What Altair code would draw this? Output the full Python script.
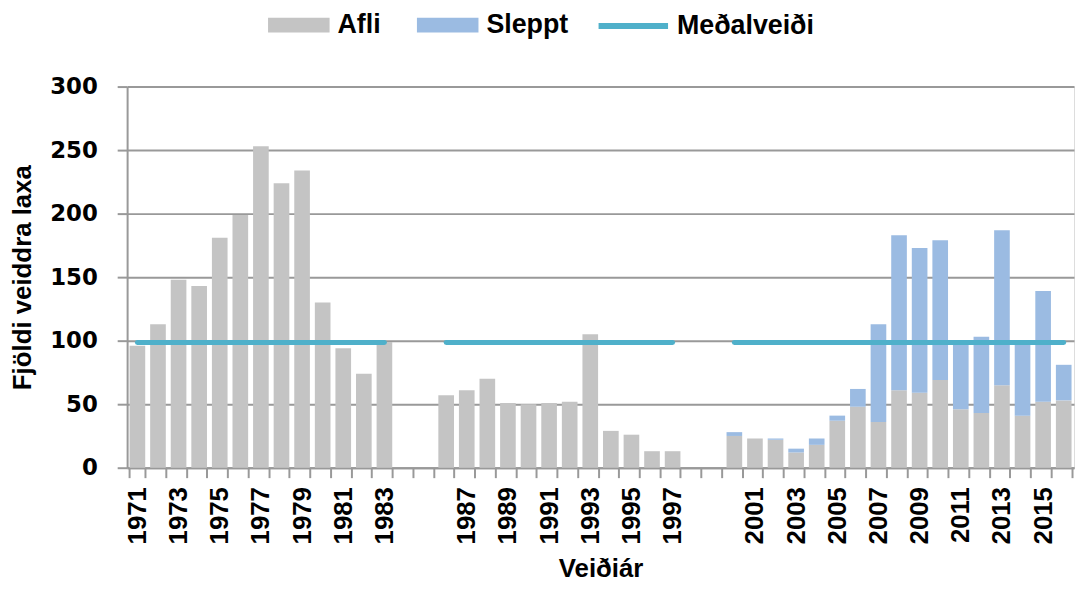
import altair as alt
import pandas as pd

# ---- data ----
all_years = [str(y) for y in range(1971, 2017)]

afli_years = list(range(1971, 1984)) + list(range(1986, 1998)) + list(range(2000, 2017))
afli = [96, 113, 148, 143, 181, 199, 253, 224, 234, 130, 94, 74, 99,
        57, 61, 70, 51, 50, 51, 52, 105, 29, 26, 13, 13,
        25, 23, 22, 12, 18, 37, 48, 36, 61, 59, 69, 46, 43, 65, 41, 52, 53]

sleppt_years = list(range(2000, 2017))
sleppt = [3, 0, 1, 3, 5, 4, 14, 77, 122, 114, 110, 53, 60, 122, 58, 87, 28]

mean_value = 98.5
mean_segments = [(1971, 1983), (1986, 1997), (2000, 2016)]

label_years = [1971, 1973, 1975, 1977, 1979, 1981, 1983,
               1987, 1989, 1991, 1993, 1995, 1997,
               2001, 2003, 2005, 2007, 2009, 2011, 2013, 2015]

series_names = ["Afli", "Sleppt"]
series_colors = ["#C4C4C4", "#9BBBE2"]
mean_name = "Meðalveiði"
mean_color = "#4FB0CA"

# ---- tables ----
rows = []
for y, v in zip(afli_years, afli):
    rows.append({"year": str(y), "series": "Afli", "value": v, "ord": 0})
for y, v in zip(sleppt_years, sleppt):
    rows.append({"year": str(y), "series": "Sleppt", "value": v, "ord": 1})
bars_df = pd.DataFrame(rows)

mrows = []
for i, (a, b) in enumerate(mean_segments):
    mrows.append({"year": str(a), "series": mean_name, "value": mean_value, "seg": i})
    mrows.append({"year": str(b), "series": mean_name, "value": mean_value, "seg": i})
mean_df = pd.DataFrame(mrows)

FONT = "Liberation Sans"
YFONT = "DejaVu Sans"
GRID = "#999999"

label_list = ",".join("'%d'" % y for y in label_years)
label_expr = "indexof([" + label_list + "], datum.value) >= 0 ? datum.value : ''"

x_enc = alt.X(
    "year:N",
    scale=alt.Scale(domain=all_years, paddingInner=0.24, paddingOuter=0.12),
    axis=alt.Axis(
        title="Veiðiár",
        tickBand="extent",
        tickSize=10,
        tickWidth=2,
        tickColor=GRID,
        domainColor=GRID,
        domainWidth=2,
        labelAngle=-90,
        labelAlign="right",
        labelBaseline="middle",
        labelFont=FONT,
        labelFontSize=26,
        labelFontWeight="bold",
        labelColor="black",
        labelPadding=9,
        labelOverlap=False,
        labelExpr=label_expr,
        titleFont=FONT,
        titleFontSize=26,
        titleFontWeight="bold",
        titleColor="black",
        titlePadding=12,
        grid=False,
    ),
)

y_axis = alt.Axis(
    title="Fjöldi veiddra laxa",
    values=[0, 50, 100, 150, 200, 250, 300],
    grid=True,
    gridColor=GRID,
    gridWidth=2,
    tickSize=10,
    tickWidth=2,
    tickColor=GRID,
    domainColor=GRID,
    domainWidth=2,
    labelFont=YFONT,
    labelFontSize=23,
    labelFontWeight="bold",
    labelColor="black",
    labelPadding=20,
    titleFont=FONT,
    titleFontSize=26,
    titleFontWeight="bold",
    titleColor="black",
    titlePadding=14,
)

bars = alt.Chart(bars_df).mark_bar().encode(
    x=x_enc,
    y=alt.Y("value:Q", stack="zero", scale=alt.Scale(domain=[0, 300]), axis=y_axis),
    color=alt.Color(
        "series:N",
        scale=alt.Scale(domain=series_names, range=series_colors),
        legend=alt.Legend(
            orient="none",
            legendX=142,
            legendY=-93,
            direction="horizontal",
            title=None,
            symbolType="M-1,-0.24H1V0.24H-1Z",
            symbolSize=3844,
            symbolStrokeWidth=0,
            labelFont=FONT,
            labelFontSize=27,
            labelFontWeight="bold",
            labelColor="black",
            labelOffset=8,
            columnPadding=36,
        ),
    ),
    order=alt.Order("ord:Q"),
)

line = alt.Chart(mean_df).mark_line(strokeWidth=5, strokeCap="round").encode(
    x=alt.X("year:N"),
    y=alt.Y("value:Q"),
    detail="seg:N",
    stroke=alt.Stroke(
        "series:N",
        scale=alt.Scale(domain=[mean_name], range=[mean_color]),
        legend=alt.Legend(
            orient="none",
            legendX=472,
            legendY=-99,
            direction="horizontal",
            title=None,
            symbolType="stroke",
            symbolSize=4900,
            symbolStrokeWidth=6,
            labelFont=FONT,
            labelFontSize=27,
            labelFontWeight="bold",
            labelColor="black",
            labelOffset=6,
        ),
    ),
)

chart = alt.layer(bars, line).properties(
    width=954,
    height=384,
    autosize=alt.AutoSizeParams(type="none"),
    padding={"left": 120, "top": 77, "right": 1, "bottom": 116},
).configure_view(stroke=None).configure(background="white")

chart.save("out.html", embed_options={"renderer": "svg", "actions": False})
